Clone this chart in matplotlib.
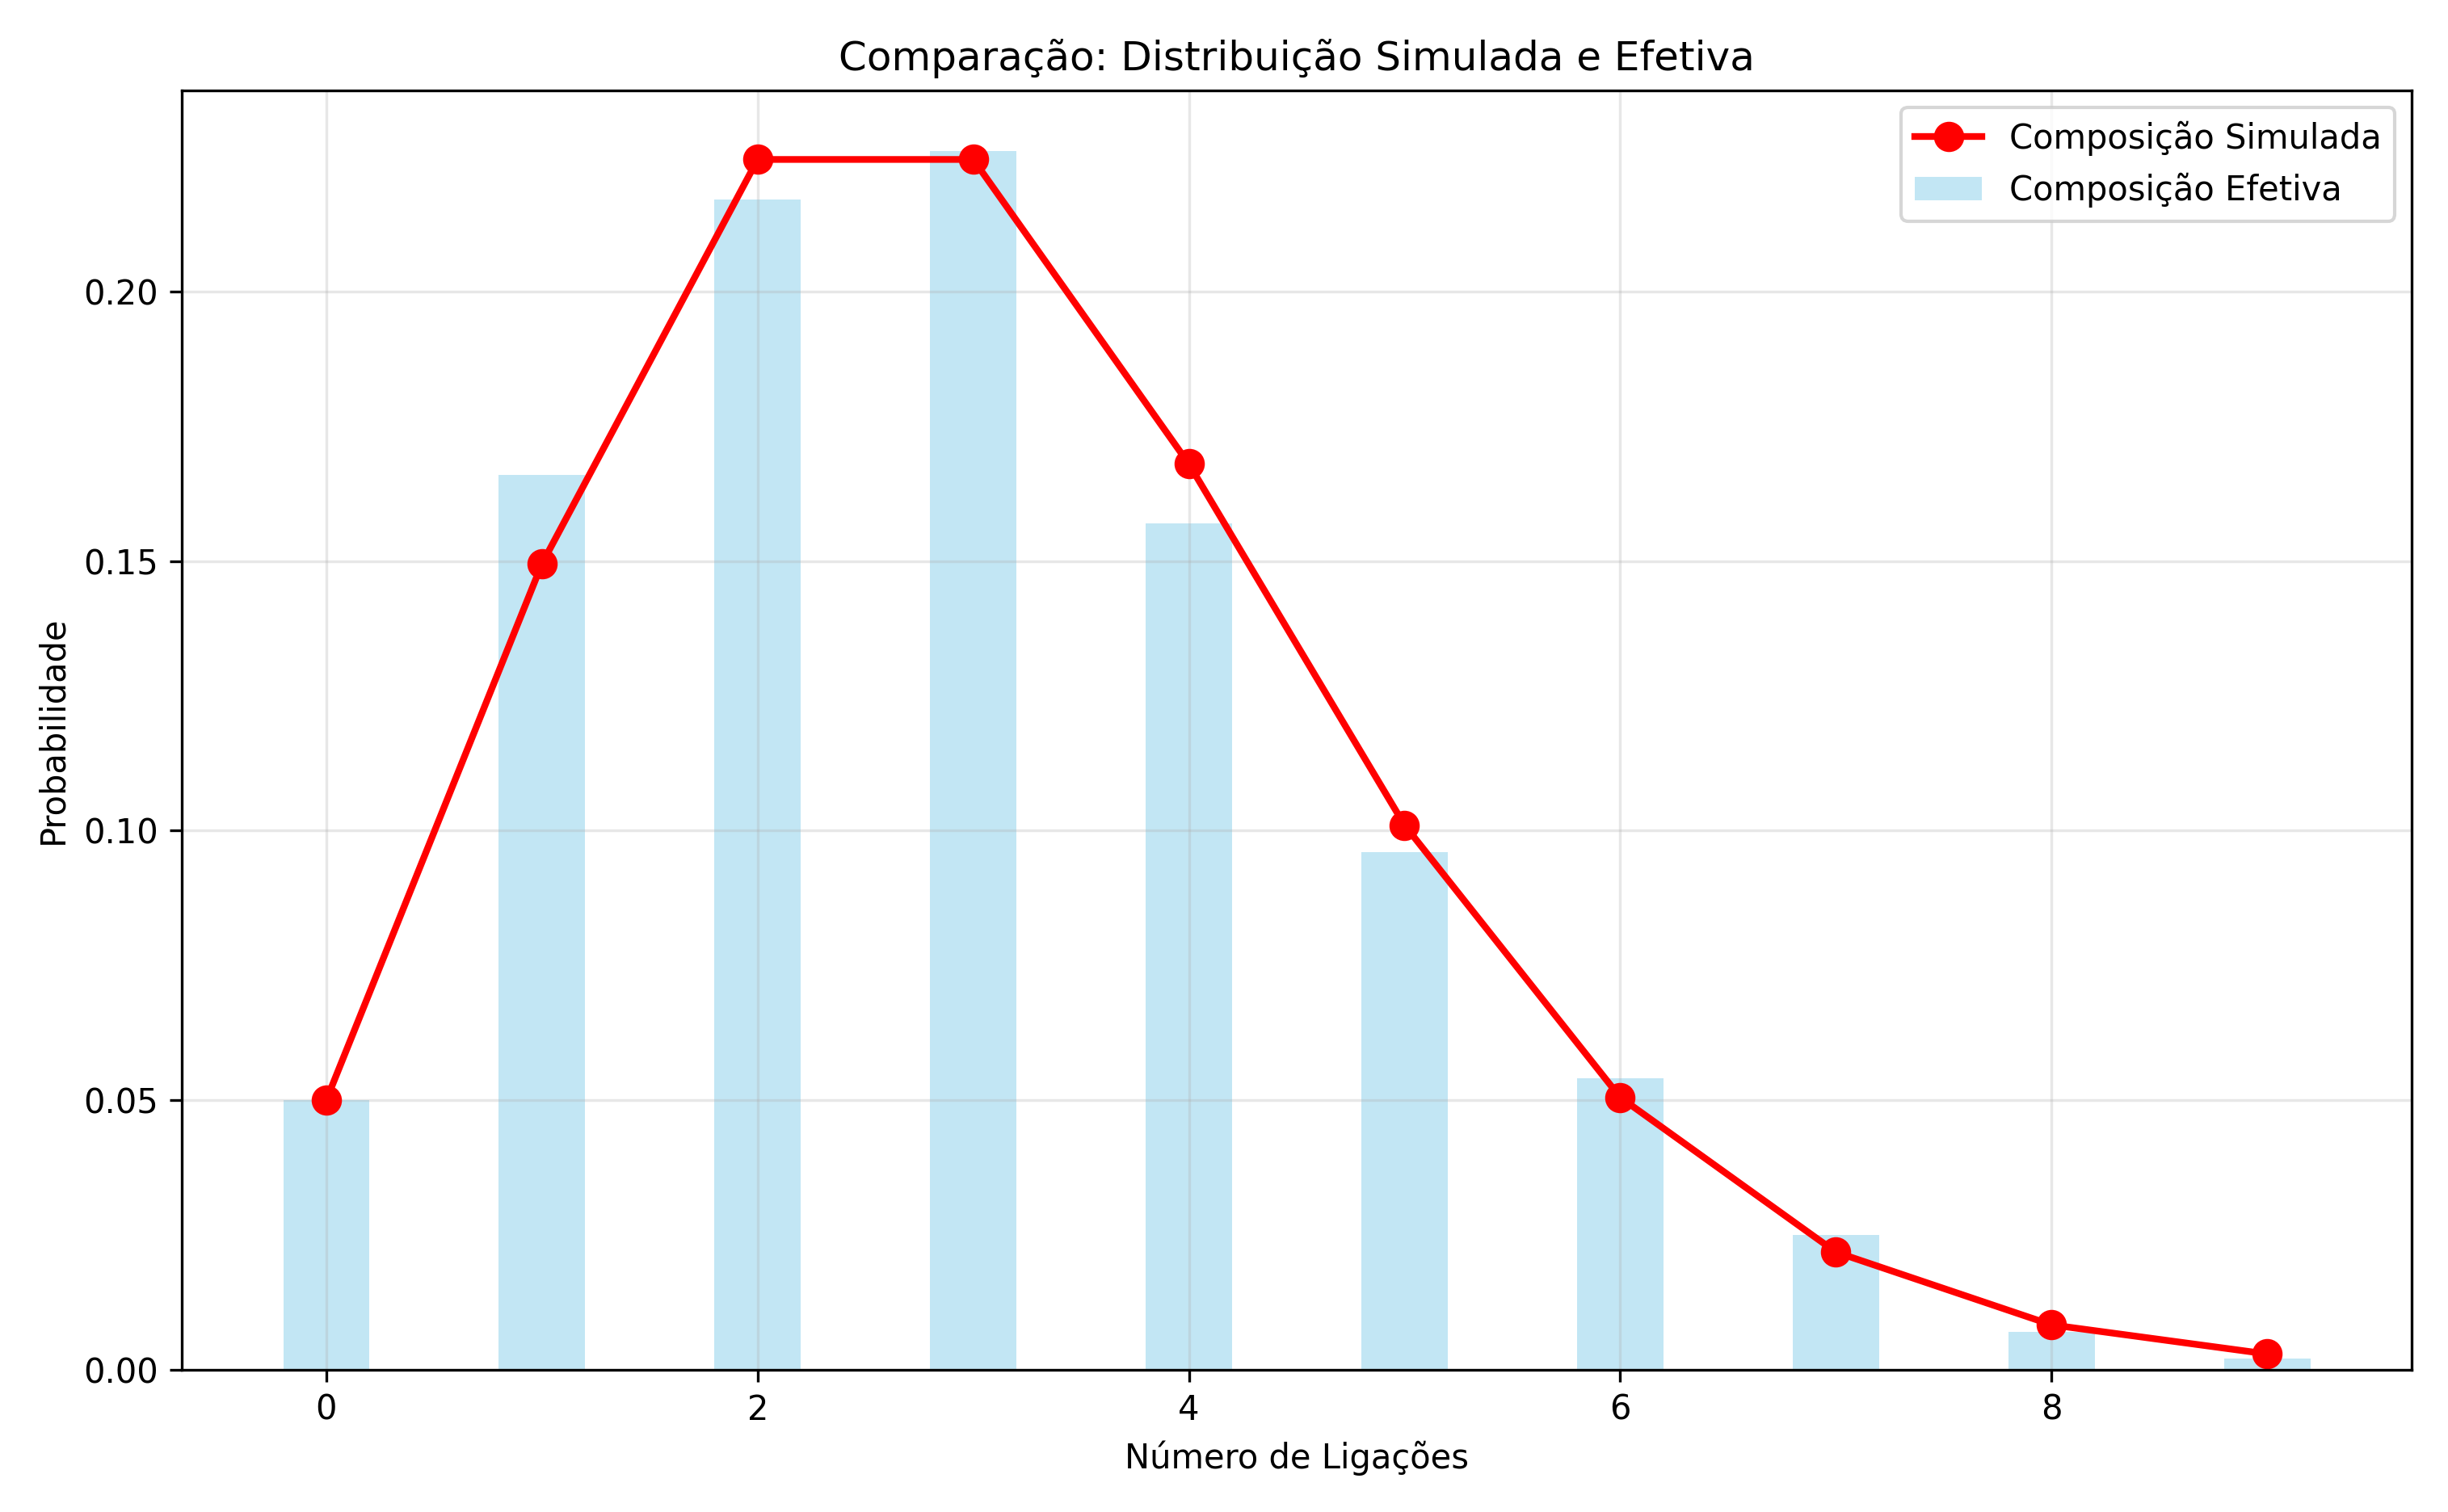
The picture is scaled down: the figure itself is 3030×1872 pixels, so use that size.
import matplotlib
matplotlib.use("Agg")
import matplotlib.pyplot as plt
import numpy as np

ligacoes = np.arange(10)
simulada = [0.050, 0.1495, 0.2245, 0.2245, 0.168, 0.101, 0.0505, 0.0218, 0.0083, 0.0029]
efetiva = [0.050, 0.166, 0.217, 0.226, 0.157, 0.096, 0.054, 0.025, 0.007, 0.002]

fig, ax = plt.subplots(figsize=(10.1, 6.24))
ax.plot(ligacoes, simulada, "o-", color="red", lw=2, ms=8, label="Composição Simulada")
ax.bar(ligacoes, efetiva, width=0.4, color="skyblue", alpha=0.5, label="Composição Efetiva")
ax.set_xlabel("Número de Ligações")
ax.set_ylabel("Probabilidade")
ax.set_title("Comparação: Distribuição Simulada e Efetiva")
ax.legend()
ax.grid(alpha=0.3)
fig.tight_layout()
fig.savefig("out.png", dpi=300)
